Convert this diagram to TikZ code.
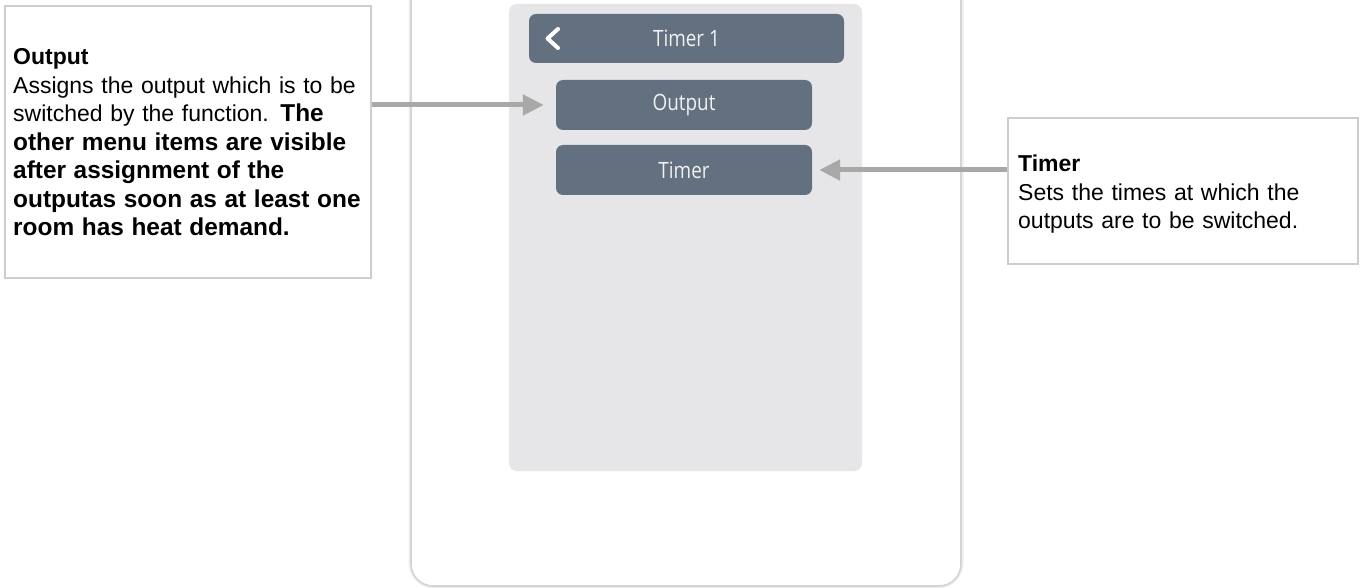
\documentclass[tikz,border=0pt]{standalone}
\usepackage{fontspec}
\setmainfont{Liberation Sans}
\newfontfamily\btnfont{Open Sans}
\usetikzlibrary{arrows.meta}
\definecolor{btn}{HTML}{627080}
\definecolor{panel}{HTML}{E6E6E8}
\definecolor{arrowgray}{HTML}{A8A8A8}
\definecolor{boxline}{HTML}{CDCDCD}
\definecolor{phoneline}{HTML}{D4D4D4}
\definecolor{phoneshade}{HTML}{EEEEEE}
\newcommand{\bigbold}[1]{{\fontsize{24.4}{28.5}\selectfont\bfseries #1}}
\begin{document}
\begin{tikzpicture}[x=1pt,y=-1pt,
  infobox/.style={draw=boxline, line width=1.8pt, fill=white, inner sep=0pt},
  desc/.style={anchor=base west, inner sep=0pt, text width=370pt, align=left,
    font=\fontsize{23}{28.5}\selectfont, text=black},
  button/.style={fill=btn, rounded corners=7pt, inner sep=0pt,
    minimum width=256pt, minimum height=50pt, text=white!94!black,
    font=\btnfont\fontsize{22.5}{26}\selectfont},
  conn/.style={draw=arrowgray, line width=5pt, -{Triangle[length=21pt,width=20pt]}}]
\useasboundingbox (0,0) rectangle (1363,588);
\clip (0,0) rectangle (1363,588);
% phone body
\draw[phoneshade, line width=5pt, rounded corners=23pt] (411,-40) rectangle (961,586);
\draw[phoneline, line width=1.6pt, fill=white, rounded corners=22pt] (411,-40) rectangle (961,586);
% screen panel
\node[fill=panel, rounded corners=8pt, inner sep=0pt, minimum width=353pt, minimum height=467pt] (panel) at (685.5,237.5) {};
% header
\node[button, minimum width=315pt, minimum height=49pt] (header) at (686.5,38.5) {\scalebox{0.84}[1]{Timer 1}};
\draw[white, line width=4pt, line cap=round, line join=round] (558,29) -- (547.5,38.5) -- (558,48);
% buttons
\node[button] (outbtn) at (684,105) {\scalebox{0.84}[1]{Output}};
\node[button] (timbtn) at (684,170) {\scalebox{0.84}[1]{Timer}};
% info boxes
\node[infobox, minimum width=366pt, minimum height=272pt] (outbox) at (188,142) {};
\node[infobox, minimum width=350pt, minimum height=146pt] (timbox) at (1183,191) {};
\node[desc] (outtext) at (13,65) {\textbf{Output}\\
Assigns the output which is to be\\
switched by the function. \bigbold{The}\\
\bigbold{other menu items are visible}\\
\bigbold{after assignment of the}\\
\bigbold{outputas soon as at least one}\\
\bigbold{room has heat demand.}};
\node[desc] (timtext) at (1018,172) {\textbf{Timer}\\
Sets the times at which the\\
outputs are to be switched.};
% connectors
\draw[conn, shorten >=12pt] (outbtn.west -| outbox.east) -- (outbtn.west);
\draw[conn, shorten >=7pt] (timbtn.east -| timbox.west) -- (timbtn.east);
\end{tikzpicture}
\end{document}
